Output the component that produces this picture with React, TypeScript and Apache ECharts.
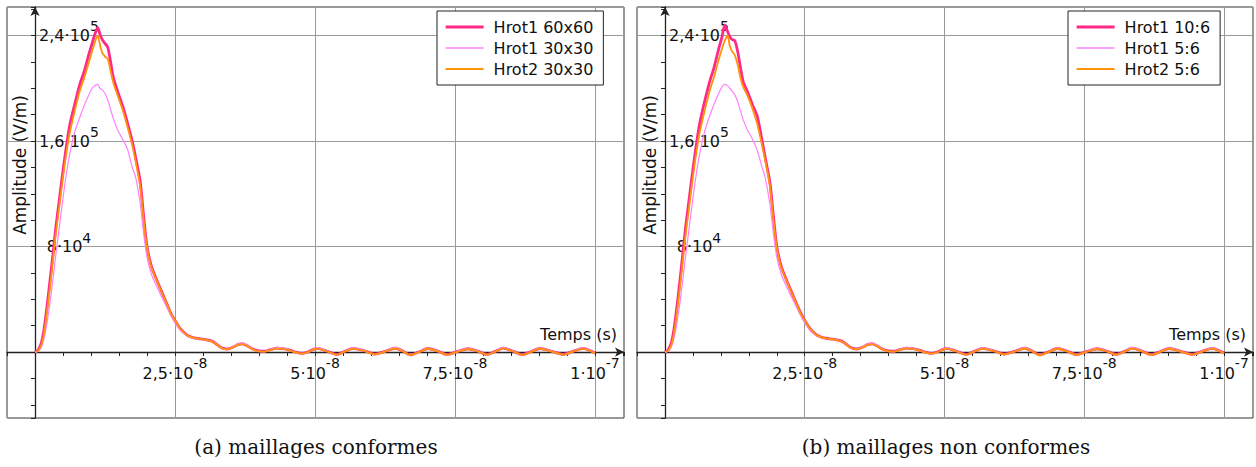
import React, { useEffect, useRef } from 'react';
import * as echarts from 'echarts';

// time samples (ns), shared by all curves
const T_NS = [
  0, 0.5, 1.1, 1.6, 2.1, 2.7, 3.2, 3.7, 4.3, 4.8,
  5.5, 6.2, 7.1, 8.0, 8.8, 9.5, 10.2, 10.7, 11.2, 11.6,
  12.0, 12.5, 13.0, 13.5, 14.0, 14.8, 15.7, 16.5, 17.3, 18.0,
  18.8, 19.4, 20.0, 20.8, 21.7, 22.6, 23.6, 24.3, 25.0, 26.0,
  27.1, 28.2, 29.5, 30.5, 31.6, 32.4, 33.2, 34.3, 35.4, 36.3,
  37.1, 38.0, 38.9, 40.0, 41.0, 42.0, 43.2, 44.3, 45.5, 46.5,
  47.7, 48.7, 49.6, 50.4, 52.1, 53.9, 55.3, 56.8, 58.8, 60.7,
  62.5, 64.3, 65.6, 67.0, 68.6, 70.2, 71.9, 73.6, 75.4, 77.3,
  79.0, 80.7, 82.2, 83.6, 85.3, 87.0, 88.6, 90.2, 92.3, 94.3,
  96.1, 97.9, 100.0,
];

// (a) maillages conformes
const A_HROT1_60 = [
  0, 1200, 6500, 17000, 33000, 55000, 74000, 94000, 114000, 131000,
  153000, 172000, 188000, 203000, 213000, 224000, 234000, 241000, 246000, 241000,
  237000, 234000, 231000, 220000, 208000, 197000, 186000, 174000, 161000, 147000,
  129000, 103000, 80000, 65000, 55000, 46000, 36000, 29000, 24000, 17500,
  13000, 11000, 10000, 9500, 8300, 6000, 3500, 2300, 3800, 5800,
  6200, 4500, 2300, 800, 600, 1800, 3000, 2600, 1500, 0,
  -1000, 0, 1800, 2800, 800, -1800, 500, 2800, 1000, -1500,
  500, 2900, 1000, -2200, 200, 2700, 800, -1900, 300, 2500,
  800, -1800, 500, 3000, 800, -2000, 400, 2700, 600, -1800,
  600, 2800, -800,
];
const A_HROT1_30 = [
  0, 600, 3500, 10000, 21000, 38000, 55000, 73000, 93000, 110000,
  132000, 150000, 167000, 178000, 187000, 194000, 200000, 202000, 203000, 200000,
  199000, 196000, 191000, 184000, 177000, 168000, 161000, 154000, 141000, 132000,
  112000, 90000, 72000, 59000, 50000, 42000, 33500, 27500, 22000, 16000,
  12500, 10500, 9800, 9300, 8300, 6000, 3300, 2200, 4200, 6500,
  7000, 5000, 2300, 500, 300, 2000, 3500, 3000, 1500, -300,
  -1500, -300, 2000, 3300, 900, -2300, 500, 3300, 1100, -2000,
  500, 3500, 1100, -2700, 200, 3200, 900, -2400, 300, 3000,
  900, -2300, 500, 3500, 900, -2500, 400, 3200, 700, -2300,
  600, 3300, -1000,
];
const A_HROT2_30 = [
  0, 800, 5000, 14000, 29000, 50000, 69000, 89000, 109000, 126000,
  148000, 166000, 183000, 198000, 208000, 218000, 228000, 235000, 240000, 233000,
  227000, 224000, 222000, 213000, 204000, 194000, 183000, 171000, 158000, 144000,
  125000, 100000, 79000, 64000, 54500, 45500, 36000, 29000, 24000, 17500,
  13000, 11000, 10000, 9300, 8000, 5800, 3300, 2100, 3600, 5600,
  6000, 4300, 2000, 500, 300, 1500, 2800, 2400, 1300, -200,
  -1200, -200, 1600, 2600, 600, -2000, 300, 2600, 800, -1700,
  300, 2700, 800, -2400, 0, 2500, 600, -2100, 100, 2300,
  600, -2000, 300, 2800, 600, -2200, 200, 2500, 400, -2000,
  400, 2600, -1000,
];

// (b) maillages non conformes
const B_HROT1_10_6 = [
  0, 1200, 6500, 17000, 33000, 55000, 75000, 95000, 115000, 132000,
  154000, 173000, 190000, 205000, 216000, 228000, 239000, 248000, 243000, 239000,
  237000, 236000, 228000, 216000, 205000, 197000, 187000, 179000, 162000, 146000,
  128000, 103000, 80000, 65000, 55000, 46000, 36000, 29500, 24000, 17500,
  13000, 11000, 10000, 9500, 8300, 6000, 3500, 2300, 3800, 5800,
  6200, 4500, 2300, 800, 600, 1800, 3000, 2600, 1500, 0,
  -1000, 0, 1800, 2800, 800, -1800, 500, 2800, 1000, -1500,
  500, 2900, 1000, -2200, 200, 2700, 800, -1900, 300, 2500,
  800, -1800, 500, 3000, 800, -2000, 400, 2700, 600, -1800,
  600, 2800, -800,
];
const B_HROT1_5_6 = [
  0, 600, 3500, 10000, 21000, 38000, 55000, 73000, 93000, 110000,
  132000, 150000, 167000, 179000, 188000, 195000, 201000, 203000, 202000, 200000,
  198000, 195000, 190000, 183000, 176000, 168000, 161000, 153000, 141000, 131000,
  111000, 90000, 72000, 59000, 50000, 42000, 33500, 27500, 22000, 16000,
  12500, 10500, 9800, 9300, 8300, 6000, 3300, 2200, 4200, 6500,
  7000, 5000, 2300, 500, 300, 2000, 3500, 3000, 1500, -300,
  -1500, -300, 2000, 3300, 900, -2300, 500, 3300, 1100, -2000,
  500, 3500, 1100, -2700, 200, 3200, 900, -2400, 300, 3000,
  900, -2300, 500, 3500, 900, -2500, 400, 3200, 700, -2300,
  600, 3300, -1000,
];
const B_HROT2_5_6 = [
  0, 800, 5000, 14000, 29000, 50000, 69000, 89000, 109000, 126000,
  148000, 166000, 183000, 198000, 209000, 220000, 230000, 236000, 240000, 232000,
  228000, 225000, 218000, 208000, 201000, 194000, 184000, 173000, 158000, 144000,
  125000, 100000, 79000, 64000, 54500, 45500, 36000, 29000, 24000, 17500,
  13000, 11000, 10000, 9300, 8000, 5800, 3300, 2100, 3600, 5600,
  6000, 4300, 2000, 500, 300, 1500, 2800, 2400, 1300, -200,
  -1200, -200, 1600, 2600, 600, -2000, 300, 2600, 800, -1700,
  300, 2700, 800, -2400, 0, 2500, 600, -2100, 100, 2300,
  600, -2000, 300, 2800, 600, -2200, 200, 2500, 400, -2000,
  400, 2600, -1000,
];

const NAMES_A = ['Hrot1 60x60', 'Hrot1 30x30', 'Hrot2 30x30'];
const NAMES_B = ['Hrot1 10:6', 'Hrot1 5:6', 'Hrot2 5:6'];
const CAPTIONS = ['(a) maillages conformes', '(b) maillages non conformes'];

const X_TICK_VALUES = [2.5e-8, 5e-8, 7.5e-8, 1e-7];
const X_TICK_MANT = ['2,5', '5', '7,5', '1'];
const X_TICK_EXP = ['-8', '-8', '-8', '-7'];
const Y_TICK_VALUES = [8e4, 1.6e5, 2.4e5];
const Y_TICK_MANT = ['8', '1,6', '2,4'];
const Y_TICK_EXP = ['4', '5', '5'];

const X_MIN = -5e-9;
const X_MAX = 1.0518e-7;
const Y_MIN = -50000;
const Y_MAX = 261600;

const COLORS = ['#ff2a87', '#ff80ff', '#ff9408'];
const WIDTHS = [2.8, 1.2, 1.8];
const SANS = 'DejaVu Sans';

function sciLabel(values: number[], mant: string[], exp: string[], tol: number) {
  return (v: number) => {
    for (let i = 0; i < values.length; i++) {
      if (Math.abs(v - values[i]) < tol) return `{b|${mant[i]}·10}{s|${exp[i]}}`;
    }
    return '';
  };
}

export default function App() {
  const ref = useRef<HTMLDivElement>(null);
  useEffect(() => {
    if (!ref.current) return;
    const chart = echarts.init(ref.current, undefined, { renderer: 'svg' });
    const panels = [
      { names: NAMES_A, vals: [A_HROT1_60, A_HROT1_30, A_HROT2_30] },
      { names: NAMES_B, vals: [B_HROT1_10_6, B_HROT1_5_6, B_HROT2_5_6] },
    ];
    const gridLefts = [7, 637];
    const W = 617;
    const H = 411;
    // place the axes on the origin of the other axis
    const xAxisOffset = -H * (0 - Y_MIN) / (Y_MAX - Y_MIN);
    const yAxisOffset = -W * (0 - X_MIN) / (X_MAX - X_MIN);

    const xAxes: any[] = [];
    const yAxes: any[] = [];
    const richX = {
      b: { fontSize: 16, fontFamily: SANS, color: '#111', lineHeight: 18 },
      s: { fontSize: 14, fontFamily: SANS, color: '#111', lineHeight: 14, padding: [0, 0, 20, 0] },
    };
    const richY = {
      b: { fontSize: 16, fontFamily: SANS, color: '#111', lineHeight: 18 },
      s: { fontSize: 14, fontFamily: SANS, color: '#111', lineHeight: 14, padding: [0, 0, 18, 0] },
    };
    for (let p = 0; p < 2; p++) {
      xAxes.push({
        type: 'value', gridIndex: p, min: X_MIN, max: X_MAX, position: 'bottom', offset: xAxisOffset,
        minInterval: 5e-9, maxInterval: 5e-9,
        name: 'Temps (s)', nameLocation: 'end', nameGap: -7,
        nameTextStyle: { fontFamily: SANS, fontSize: 16, color: '#111', align: 'right', verticalAlign: 'bottom', padding: [0, 0, 10, 0] },
        axisLine: { show: true, onZero: false, symbol: ['none', 'arrow'], symbolSize: [7, 9], lineStyle: { color: '#222', width: 1.3 } },
        axisTick: { show: true, length: 4, lineStyle: { color: '#222', width: 1 } },
        splitLine: { show: false },
        axisLabel: { formatter: sciLabel(X_TICK_VALUES, X_TICK_MANT, X_TICK_EXP, 1e-12), rich: richX, margin: 12, align: 'center' },
      });
      yAxes.push({
        type: 'value', gridIndex: p, min: Y_MIN, max: Y_MAX, position: 'left', offset: yAxisOffset,
        minInterval: 20000, maxInterval: 20000,
        axisLine: { show: true, onZero: false, symbol: ['none', 'arrow'], symbolSize: [7, 9], lineStyle: { color: '#222', width: 1.3 } },
        axisTick: { show: true, length: 4, lineStyle: { color: '#222', width: 1 } },
        splitLine: { show: false },
        axisLabel: { inside: true, formatter: sciLabel(Y_TICK_VALUES, Y_TICK_MANT, Y_TICK_EXP, 1), rich: richY, margin: 34, align: 'center', verticalAlign: 'middle' },
      });
    }
    for (let p = 0; p < 2; p++) {
      xAxes.push({
        type: 'value', gridIndex: p, min: X_MIN, max: X_MAX, position: 'top',
        minInterval: 2.5e-8, maxInterval: 2.5e-8,
        axisLine: { show: false, onZero: false }, axisTick: { show: false }, axisLabel: { show: false },
        splitLine: { show: true, lineStyle: { color: '#9a9a9a', width: 1 } },
      });
      yAxes.push({
        type: 'value', gridIndex: p, min: Y_MIN, max: Y_MAX, position: 'right',
        minInterval: 80000, maxInterval: 80000,
        axisLine: { show: false, onZero: false }, axisTick: { show: false }, axisLabel: { show: false },
        splitLine: { show: true, lineStyle: { color: '#9a9a9a', width: 1 } },
      });
    }

    const series: any[] = [];
    const legends: any[] = [];
    panels.forEach((panel, p) => {
      panel.names.forEach((name, k) => {
        series.push({
          type: 'line', name, xAxisIndex: p, yAxisIndex: p,
          data: T_NS.map((t, i) => [t * 1e-9, panel.vals[k][i]]),
          symbol: 'none', showSymbol: false, smooth: 0.25,
          lineStyle: { color: COLORS[k], width: WIDTHS[k] },
          itemStyle: { color: COLORS[k] },
          z: 3 + k,
        });
      });
      legends.push({
        left: p === 0 ? 437 : 1068, top: 11, orient: 'vertical',
        itemWidth: 38, itemHeight: 12, itemGap: 5,
        padding: [8, 10, 8, 7],
        borderColor: '#222', borderWidth: 1, backgroundColor: '#fff',
        textStyle: { fontFamily: SANS, fontSize: 16, color: '#111', padding: [0, 0, 0, 5] },
        itemStyle: { opacity: 0 },
        data: panel.names.map((name, k) => ({ name, lineStyle: { width: WIDTHS[k] + 0.4, color: COLORS[k] } })),
        selectedMode: false,
      });
    });

    const graphic: any[] = [];
    for (let p = 0; p < 2; p++) {
      graphic.push({
        type: 'text', x: 20 + p * 630, y: 165, rotation: Math.PI / 2,
        style: { text: 'Amplitude (V/m)', fontFamily: SANS, fontSize: 17, fill: '#111', align: 'center', verticalAlign: 'middle' },
      });
      graphic.push({
        type: 'text', x: p === 0 ? 316 : 946, y: 447,
        style: { text: CAPTIONS[p], fontFamily: 'DejaVu Serif', fontSize: 20, fill: '#111', align: 'center', verticalAlign: 'middle' },
      });
    }

    chart.setOption({
      animation: false,
      backgroundColor: '#fff',
      grid: gridLefts.map((left) => ({
        left, top: 7, width: W, height: H, show: true,
        borderColor: '#333', borderWidth: 1, backgroundColor: '#fff',
      })),
      xAxis: xAxes,
      yAxis: yAxes,
      legend: legends,
      series,
      graphic,
    });
    return () => chart.dispose();
  }, []);
  return <div ref={ref} style={{ position: 'fixed', left: 0, top: 0, width: 1256, height: 467 }} />;
}
